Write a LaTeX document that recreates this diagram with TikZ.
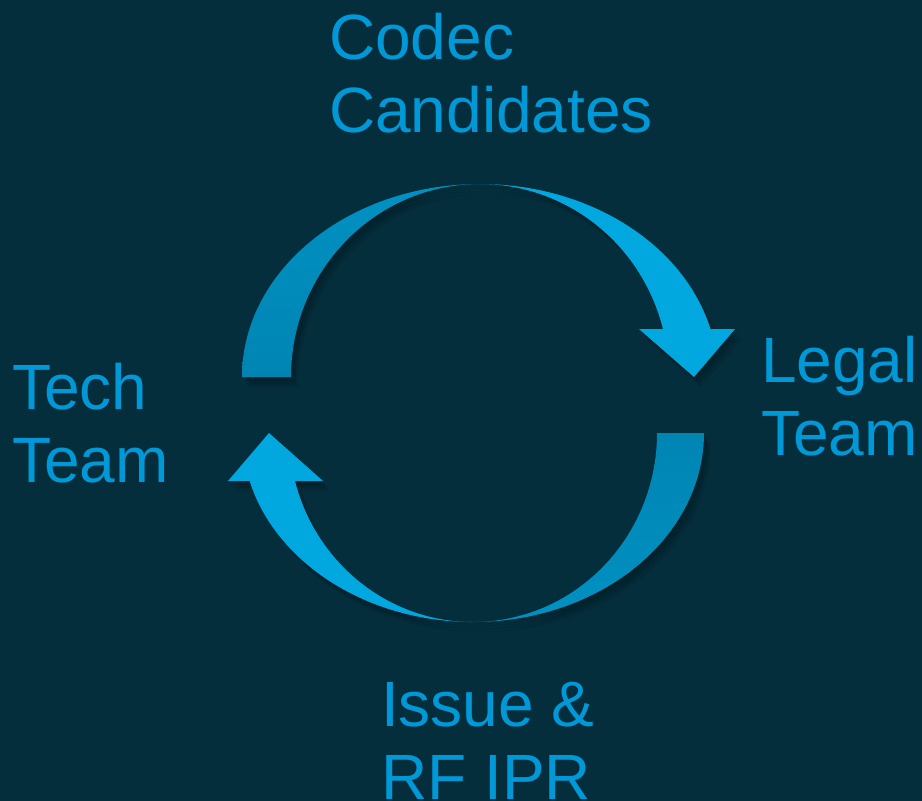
\documentclass[tikz,border=0pt]{standalone}
\usepackage{fontspec}
\setmainfont{Liberation Sans}
\definecolor{bg}{HTML}{042E3B}
\definecolor{txt}{HTML}{0098D6}
\definecolor{bright}{HTML}{00A8DF}
\definecolor{darkA}{HTML}{0085B3}
\definecolor{darkB}{HTML}{0091C2}
\tikzset{
  lbl/.style={anchor=base west, inner sep=0pt, align=left, text=txt,
    font=\fontsize{64}{73.5}\selectfont},
  shadowfill/.style={fill=black, opacity=0.08},
  topL/.style={insert path={(242,377) arc[start angle=180, end angle=270, x radius=238, y radius=193]
     arc[start angle=270, end angle=180, x radius=189, y radius=193] -- cycle}},
  topR/.style={insert path={(480,184) arc[start angle=-90, end angle=-14.4, x radius=238, y radius=193]
     -- (735,329) -- (694,377) -- (639,329) -- (663,329)
     arc[start angle=-14.4, end angle=-90, x radius=189, y radius=193] -- cycle}},
  botR/.style={insert path={(704,433) arc[start angle=0, end angle=90, x radius=231, y radius=189]
     arc[start angle=90, end angle=0, x radius=184, y radius=189] -- cycle}},
  botL/.style={insert path={(473,622) arc[start angle=90, end angle=165.3, x radius=231, y radius=189]
     -- (228,481) -- (269,433) -- (323,481) -- (295,481)
     arc[start angle=165.3, end angle=90, x radius=184, y radius=189] -- cycle}},
}
\begin{document}
\begin{tikzpicture}[x=1pt,y=-1pt]
\fill[bg] (0,0) rectangle (922,801);
\useasboundingbox (0,0) rectangle (922,801);
% soft shadows
\foreach \dx/\dy in {1/2,3/4,5/7,7/10}{
  \fill[shadowfill, shift={(\dx,\dy)}, topL];
  \fill[shadowfill, shift={(\dx,\dy)}, topR];
  \fill[shadowfill, shift={(\dx,\dy)}, botL];
  \fill[shadowfill, shift={(\dx,\dy)}, botR];
}
% arrows
\shade[top color=darkB, bottom color=darkA, topL];
\fill[bright, topR];
\fill[bright, botL];
\shade[top color=darkA, bottom color=darkB, botR];
% labels (anchored at the baseline of the last line)
\node[lbl] (codec) at (329,132.5) {Codec\\Candidates};
\node[lbl] (legal) at (761,455.5) {Legal\\Team};
\node[lbl] (tech) at (12,482.5) {Tech\\Team};
\node[lbl] (issue) at (381,799.5) {Issue \&\\RF IPR};
\end{tikzpicture}
\end{document}
